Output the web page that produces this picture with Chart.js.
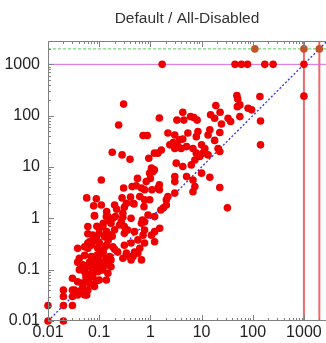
<!DOCTYPE html>
<html><head><meta charset="utf-8">
<script src="https://cdn.jsdelivr.net/npm/chart.js@4/dist/chart.umd.min.js"></script>
<style>html,body{margin:0;padding:0;background:#fff;overflow:hidden}canvas{display:block}</style>
</head><body><canvas id="c" width="326" height="343"></canvas>
<script>
const chartTitle = 'Default / All-Disabled';
const tickValues = [0.01, 0.1, 1, 10, 100, 1000];
const tickLabels = ['0.01', '0.1', '1', '10', '100', '1000'];
const axisMin = 0.01, axisMaxX = 2700, axisMaxY = 2850;
const errorLevel = 1000;      // magenta horizontal
const timeoutLevel = 2000;    // green dashed horizontal
const verticalLevels = [1000, 2000];

const xValues = [
  1.7,45,60,79,172,250,1000,1000,
  0.3,1.5,0.24,3.3,4.3,4.5,6.1,7.1,8.2,15,19,18,
  23,33,37,49,51,50,56,81,95,56,138,142,
  142,24.5,2.2,3.0,5.4,8.5,7.9,13.4,14.5,22.7,18,2.8,
  3.7,4.3,3.5,2.4,3.0,4.0,5.1,1.64,1.4,1.2,6.8,10,
  11.6,10.7,7.9,9.2,13.4,7.4,6.3,21,22.7,3.2,4.3,1.2,
  3.0,3.0,5.1,6.8,10,14.5,7.4,6.8,22.7,1.5,1.5,2.2,
  2.05,3.0,1.8,1.6,32,0.72,0.87,0.18,0.28,0.40,0.93,1.05,
  0.97,1.0,0.83,1.12,0.11,0.30,0.44,0.53,0.67,0.56,0.77,1.07,
  1.41,0.28,0.41,0.62,0.77,0.97,0.088,0.11,0.20,0.31,0.48,0.75,
  0.14,0.22,0.29,0.081,0.148,0.207,0.29,0.46,0.34,2.05,0.7,1.21,
  0.25,0.31,0.36,0.49,0.77,1.05,1.21,0.31,0.42,0.57,0.77,0.34,
  0.49,0.29,0.39,0.27,0.42,0.77,0.67,0.9,1.21,1.52,0.72,0.46,
  0.57,0.67,0.62,0.42,0.31,0.081,0.138,0.185,0.06,0.10,0.118,0.17,
  0.075,0.10,0.088,0.128,0.17,0.065,0.138,0.185,0.038,0.06,0.094,0.118,
  0.23,0.052,0.041,0.07,0.094,0.138,0.17,0.048,0.06,0.081,0.10,0.138,
  0.17,0.052,0.07,0.094,0.118,0.148,0.056,0.075,0.10,0.138,0.038,0.048,
  0.065,0.081,0.045,0.06,0.033,0.038,0.052,0.02,0.03,0.02,0.03,0.02,
  0.03,0.01,0.01,0.02,0.045,0.055,0.065,0.075,0.085,0.09,0.1,0.11,
  0.12,0.13,0.15,0.075,0.085,0.095,0.065,0.11,0.12,0.13,0.09,0.1,
  0.07,0.16,0.2,0.15,0.18,0.2,0.14,0.12,0.16,0.09,0.08,0.06,
  0.03,0.041,0.038,0.052,0.06,0.057,0.06,0.088,0.057,0.078
];
const yValues = [
  1000,1000,1000,1000,1000,1000,1000,240,
  168,90,66,82,117,82,96,92,82,104,157,89,
  117,89,77,247,212,150,162,140,130,96,236,79,
  27,69,46,42,46,49,39,42,53,47,33,30,
  34,35,25,27,23,23,25,21.5,18.6,18.6,23,27,
  23,18.6,18.6,16,17.2,13.7,11,23,20,11.9,10.2,8.8,
  6.5,5.2,6.5,5.6,7.6,6.3,4.15,3.3,4.0,4.5,3.6,2.65,
  2.3,3.1,1.6,1.45,1.6,41,41,19.4,17.2,14.2,14.8,9.5,
  7.6,6.0,5.2,8.1,5.6,3.9,4.15,4.3,3.9,6.0,3.6,3.6,
  3.9,2.5,2.6,2.65,2.3,2.3,2.4,1.82,1.82,1.65,1.91,1.69,
  1.35,1.5,1.26,1.11,1.08,1.08,1.05,1.97,1.97,1.82,0.93,1.08,
  0.74,0.69,0.59,0.55,0.59,0.47,0.35,0.30,0.33,0.38,0.33,0.21,
  0.22,0.167,0.18,0.86,1.0,0.86,0.80,1.16,0.55,0.64,0.47,0.18,
  0.21,0.155,0.26,0.155,0.51,1.13,1.08,1.0,0.69,0.64,0.69,0.80,
  0.47,0.51,0.41,0.44,0.47,0.35,0.30,0.28,0.26,0.26,0.26,0.24,
  0.22,0.19,0.167,0.18,0.155,0.167,0.155,0.124,0.114,0.124,0.106,0.124,
  0.114,0.091,0.085,0.091,0.099,0.085,0.068,0.073,0.063,0.063,0.058,0.05,
  0.054,0.047,0.04,0.04,0.04,0.032,0.032,0.04,0.04,0.03,0.03,0.02,
  0.02,0.02,0.01,0.01,0.055,0.075,0.08,0.09,0.095,0.11,0.12,0.1,
  0.14,0.13,0.13,0.12,0.14,0.16,0.14,0.2,0.22,0.28,0.19,0.34,
  0.3,0.18,0.25,0.38,0.45,0.6,0.55,0.8,0.9,0.7,0.36,0.5,
  0.068,0.1,0.14,0.28,0.33,0.032,0.06,0.06,2.5,1.75
];
// runs that hit the timeout line
const timeoutX = [110, 1000, 2000];
const timeoutY = [2000, 2000, 2000];

const FONT = '"Liberation Sans", Arial, Helvetica, sans-serif';

const framePlugin = {
  id: 'frame',
  afterDatasetsDraw(chart) {
    const { ctx, chartArea: a, scales: { x, y } } = chart;
    ctx.save();
    ctx.strokeStyle = '#808080';
    ctx.lineWidth = 1;
    ctx.beginPath();
    ctx.moveTo(a.left + 0.5, a.top + 0.5);
    ctx.lineTo(a.right, a.top + 0.5);
    ctx.moveTo(a.left + 0.5, a.top);
    ctx.lineTo(a.left + 0.5, a.bottom);
    ctx.moveTo(a.left, a.bottom - 0.5);
    ctx.lineTo(a.right, a.bottom - 0.5);
    for (let d = -2; d <= 3; d++) {
      for (let m = 1; m <= 9; m++) {
        const v = m * Math.pow(10, d);
        const len = m === 1 ? 6 : 3;
        if (v <= axisMaxX) {
          const px = Math.round(x.getPixelForValue(v)) + 0.5;
          ctx.moveTo(px, a.bottom); ctx.lineTo(px, a.bottom - len);
          ctx.moveTo(px, a.top); ctx.lineTo(px, a.top + len);
        }
        if (v <= axisMaxY) {
          const py = Math.round(y.getPixelForValue(v)) + 0.5;
          ctx.moveTo(a.left, py); ctx.lineTo(a.left + len, py);
        }
      }
    }
    ctx.stroke();
    ctx.fillStyle = '#333';
    ctx.font = '15.5px ' + FONT;
    ctx.textAlign = 'center';
    ctx.textBaseline = 'alphabetic';
    ctx.fillText(chartTitle, (a.left + a.right) / 2, 23);
    ctx.restore();
  }
};

const lineDs = (pts, color, width, dash) => ({
  type: 'scatter', data: pts, showLine: true, borderColor: color, borderWidth: width,
  borderDash: dash || [], pointRadius: 0, backgroundColor: color, order: 2, fill: false
});

const points = xValues.map((v, i) => ({ x: v, y: yValues[i] }));
const timeoutPts = timeoutX.map((v, i) => ({ x: v, y: timeoutY[i] }));

const datasets = [
  { data: points, backgroundColor: 'rgb(238,0,0)', borderWidth: 0, pointRadius: 3.8, order: 0, clip: false },
  { data: timeoutPts, backgroundColor: 'rgb(196,82,40)', borderWidth: 0, pointRadius: 3.8, order: 0, clip: false },
  lineDs([{ x: axisMin, y: timeoutLevel }, { x: axisMaxX, y: timeoutLevel }], '#55cc55', 1, [3, 2]),
  lineDs([{ x: axisMin, y: errorLevel }, { x: axisMaxX, y: errorLevel }], '#dd66dd', 1),
  ...verticalLevels.map(v => lineDs([{ x: v, y: axisMin }, { x: v, y: axisMaxY }], 'rgba(238,80,80,0.85)', 2)),
  lineDs([{ x: axisMin, y: axisMin }, { x: axisMaxY, y: axisMaxY }], '#2a2aff', 1.3, [2, 2])
];

const labelFor = v => { const i = tickValues.indexOf(v); return i >= 0 ? tickLabels[i] : ''; };
const setTicks = s => { s.ticks = tickValues.map(v => ({ value: v })); };

new Chart(document.getElementById('c'), {
  type: 'scatter',
  data: { datasets },
  options: {
    responsive: false, animation: false, devicePixelRatio: 1, events: [],
    layout: { autoPadding: false, padding: { top: 41, left: 0, right: 0, bottom: 0 } },
    plugins: { legend: { display: false }, tooltip: { enabled: false }, title: { display: false } },
    scales: {
      x: {
        type: 'logarithmic', min: axisMin, max: axisMaxX,
        afterBuildTicks: setTicks,
        afterFit: s => { s.height = 22; s.paddingLeft = 0; s.paddingRight = 0; },
        grid: { display: false, drawTicks: false }, border: { display: false },
        ticks: { autoSkip: false, maxRotation: 0, padding: 2, color: '#222', font: { size: 16, family: FONT }, callback: labelFor }
      },
      y: {
        type: 'logarithmic', min: axisMin, max: axisMaxY,
        afterBuildTicks: setTicks,
        afterFit: s => { s.width = 48; s.paddingTop = 0; s.paddingBottom = 0; },
        grid: { display: false, drawTicks: false }, border: { display: false },
        ticks: { autoSkip: false, padding: 8, color: '#222', font: { size: 16, family: FONT }, callback: labelFor }
      }
    }
  },
  plugins: [framePlugin]
});
</script>
</body></html>
